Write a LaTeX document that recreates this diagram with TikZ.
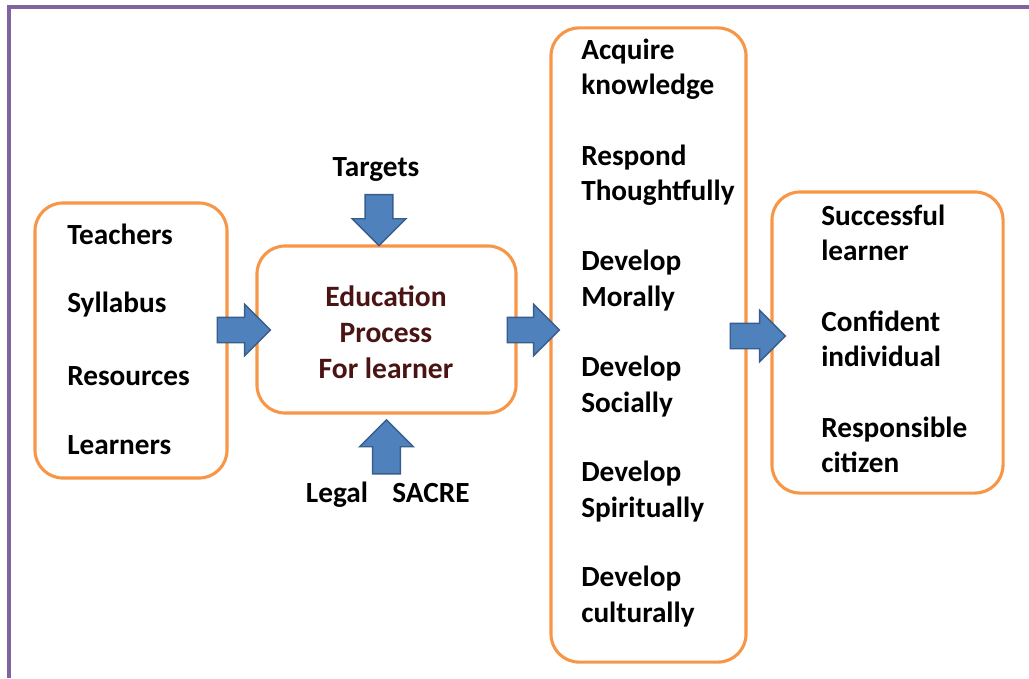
\documentclass[tikz,border=0pt]{standalone}
\usepackage{fontspec}
\setmainfont{Carlito}
\usetikzlibrary{shapes.arrows}
\usetikzlibrary{calc}

\definecolor{boxorange}{HTML}{F79646}
\definecolor{arrowblue}{HTML}{4F81BD}
\definecolor{arrowline}{HTML}{385D8A}
\definecolor{framepurple}{HTML}{8064A2}
\definecolor{procred}{HTML}{4A1414}

\begin{document}
\begin{tikzpicture}[x=0.025cm,y=-0.025cm,
  stagebox/.style={draw=boxorange,line width=2.2pt,rounded corners=0.7cm,fill=white,inner sep=0pt},
  blockarrow/.style={single arrow,draw=arrowline,fill=arrowblue,line width=1pt,
    inner xsep=0pt,inner ysep=0.3cm,single arrow head extend=0.325cm,anchor=tail},
  vblockarrow/.style={blockarrow,inner xsep=0.33cm,inner ysep=0pt},
  item/.style={font=\bfseries\fontsize{20.8}{25}\selectfont,align=left,anchor=west,inner sep=0pt}]
\useasboundingbox (0,0) rectangle (1029,678);
% frame
\draw[framepurple,line width=2.2pt] (1029,7) -- (9,7) -- (9,678);

% the four boxes
\node[stagebox,minimum width=4.8cm,minimum height=6.875cm] (inputs) at (131,340.5) {};
\node[stagebox,minimum width=6.475cm,minimum height=4.175cm] (process) at (386.5,329.5) {};
\node[stagebox,minimum width=4.875cm,minimum height=15.85cm] (aims) at (648.5,345) {};
\node[stagebox,minimum width=5.775cm,minimum height=7.525cm] (outcomes) at (887.5,342.5) {};

% inputs
\node[item] (teachers) at (67,234) {Teachers};
\node[item] (syllabus) at (67,305) {Syllabus};
\node[item] (resources) at (67,376) {Resources};
\node[item] (learners) at (67,445) {Learners};

% process
\node[font=\bfseries\fontsize{21}{25.6}\selectfont,align=center,text=procred,inner sep=0pt] (edu) at (386,332) {Education\\Process\\For learner};
\node[item,anchor=center] (targets) at (376,169) {Targets};
\node[item,anchor=base] (legal) at (337,502) {Legal};
\node[item,anchor=base] (sacre) at (431,502) {SACRE};

% aims
\node[item] (acquire) at (581,69.5) {Acquire\\knowledge};
\node[item] (respond) at (581,175.5) {Respond\\Thoughtfully};
\node[item] (morally) at (581,280.5) {Develop\\Morally};
\node[item] (socially) at (581,386.5) {Develop\\Socially};
\node[item] (spiritually) at (581,491.5) {Develop\\Spiritually};
\node[item] (culturally) at (581,596.5) {Develop\\culturally};

% outcomes
\node[item] (successful) at (821,232.5) {Successful\\learner};
\node[item] (confident) at (821,338.5) {Confident\\individual};
\node[item] (responsible) at (821,444.5) {Responsible\\citizen};

% block arrows
\node[blockarrow,minimum height=1.325cm] (a1) at ($(inputs.east)+(-12,-10.5)$) {};
\node[blockarrow,minimum height=1.3cm] (a2) at ($(process.east)+(-11,0.5)$) {};
\node[blockarrow,minimum height=1.375cm] (a3) at ($(aims.east)+(-18,-9)$) {};
\node[vblockarrow,minimum height=1.275cm,shape border rotate=270] (down) at ($(process.north)+(-7.5,-50.5)$) {};
\node[vblockarrow,minimum height=1.35cm,shape border rotate=90] (up) at ($(process.south)+(0,60)$) {};

\end{tikzpicture}
\end{document}
